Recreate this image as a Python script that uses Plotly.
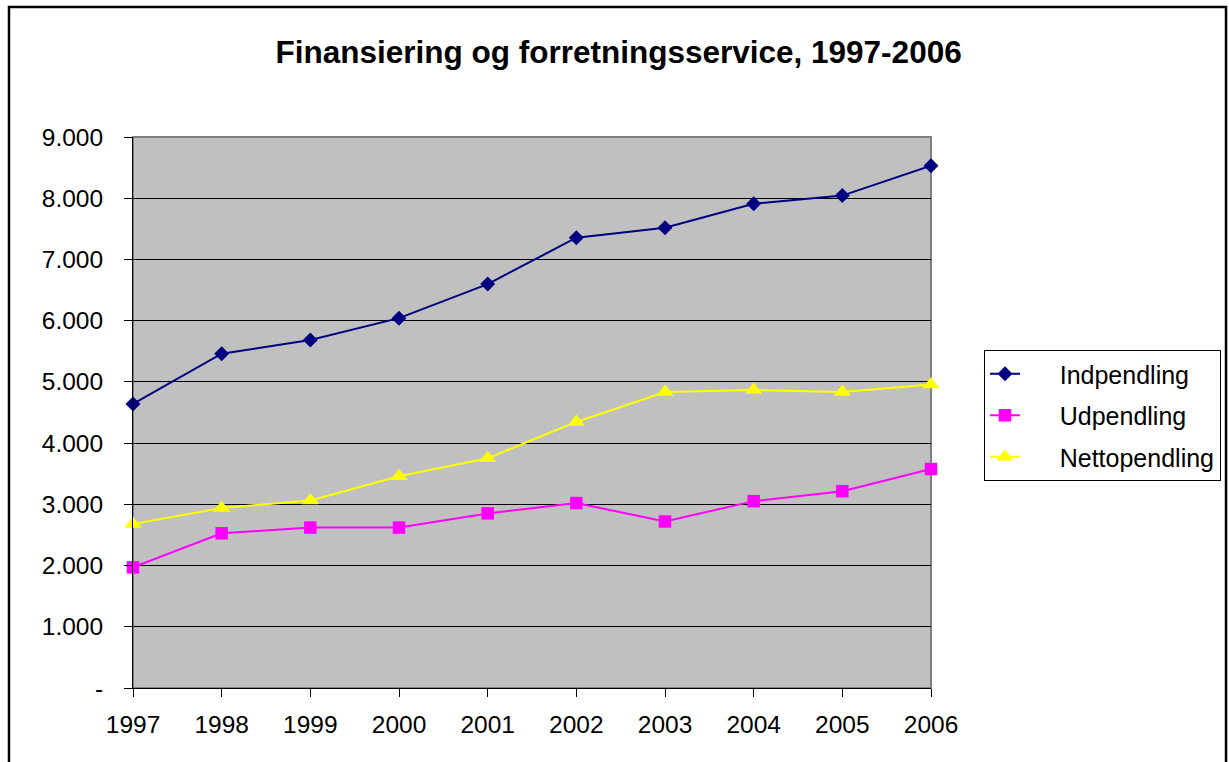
# Finansiering og forretningsservice, 1997-2006 - pendling

import plotly.graph_objs as go

years = ['1997', '1998', '1999', '2000', '2001', '2002', '2003', '2004', '2005', '2006']
indpendling = [4640, 5460, 5685, 6041, 6598, 7355, 7517, 7911, 8043, 8530]
udpendling = [1970, 2527, 2620, 2620, 2852, 3021, 2720, 3052, 3215, 3577]
nettopendling = [2677, 2939, 3064, 3458, 3752, 4346, 4834, 4866, 4834, 4959]

y_ticks = [0, 1000, 2000, 3000, 4000, 5000, 6000, 7000, 8000, 9000]
y_labels = ['-', '1.000', '2.000', '3.000', '4.000', '5.000', '6.000', '7.000', '8.000', '9.000']

FONT = 'Liberation Sans, Arial, sans-serif'
PAD = '\u00a0' * 5  # pushes legend text right, excel draws a longer legend line

fig = go.Figure()
fig.add_trace(go.Scatter(x=years, y=indpendling, mode='lines+markers', name=PAD + 'Indpendling',
                         legendgroup='a', cliponaxis=False,
                         line=dict(color='#000080', width=2),
                         marker=dict(symbol='diamond', size=11.5, color='#000080')))
fig.add_trace(go.Scatter(x=years, y=udpendling, mode='lines+markers', name=PAD + 'Udpendling',
                         legendgroup='b', cliponaxis=False,
                         line=dict(color='#FF00FF', width=2),
                         marker=dict(symbol='square', size=12.5, color='#FF00FF')))
fig.add_trace(go.Scatter(x=years, y=nettopendling, mode='lines+markers', name=PAD + 'Nettopendling',
                         legendgroup='c', cliponaxis=False,
                         line=dict(color='#FFFF00', width=2),
                         marker=dict(symbol='triangle-up', size=15, color='#FFFF00')))

# gray frame round the plot area (top and right), axis lines are black
fig.add_shape(type='rect', xref='paper', yref='paper', x0=0, y0=0, x1=1, y1=1,
              line=dict(color='#808080', width=2), layer='below')
# chart border
fig.add_shape(type='rect', xref='paper', yref='paper',
              x0=-0.1554, y0=-0.16, x1=1.3697, y1=1.236,
              line=dict(color='black', width=2.5))

fig.update_layout(
    width=1229, height=762,
    margin=dict(l=133, r=298, t=137, b=74, autoexpand=False),
    paper_bgcolor='white', plot_bgcolor='#C0C0C0',
    font=dict(family=FONT, size=24.5, color='black'),
    title=dict(text='<b>Finansiering og forretningsservice, 1997-2006</b>',
               x=0.5033, xanchor='center', y=0.9318, yanchor='middle',
               font=dict(family=FONT, size=31.5, color='black')),
    showlegend=True,
    legend=dict(x=1.0664, xanchor='left', y=0.6134, yanchor='top',
                bgcolor='white', bordercolor='black', borderwidth=1,
                font=dict(family=FONT, size=25, color='black'),
                tracegroupgap=6),
)
fig.update_xaxes(type='category', range=[0, 9], showgrid=False, zeroline=False,
                 showline=True, linecolor='black', linewidth=1,
                 ticks='outside', ticklen=8, tickcolor='black', ticklabelstandoff=7)
fig.update_yaxes(range=[0, 9000], tickvals=y_ticks, ticktext=y_labels,
                 showgrid=True, gridcolor='black', gridwidth=1, zeroline=False,
                 showline=True, linecolor='black', linewidth=1,
                 ticks='outside', ticklen=8, tickcolor='black', ticklabelstandoff=16)

fig.write_html("out.html", config={'displayModeBar': False},
               post_script="document.body.style.margin='0';")
